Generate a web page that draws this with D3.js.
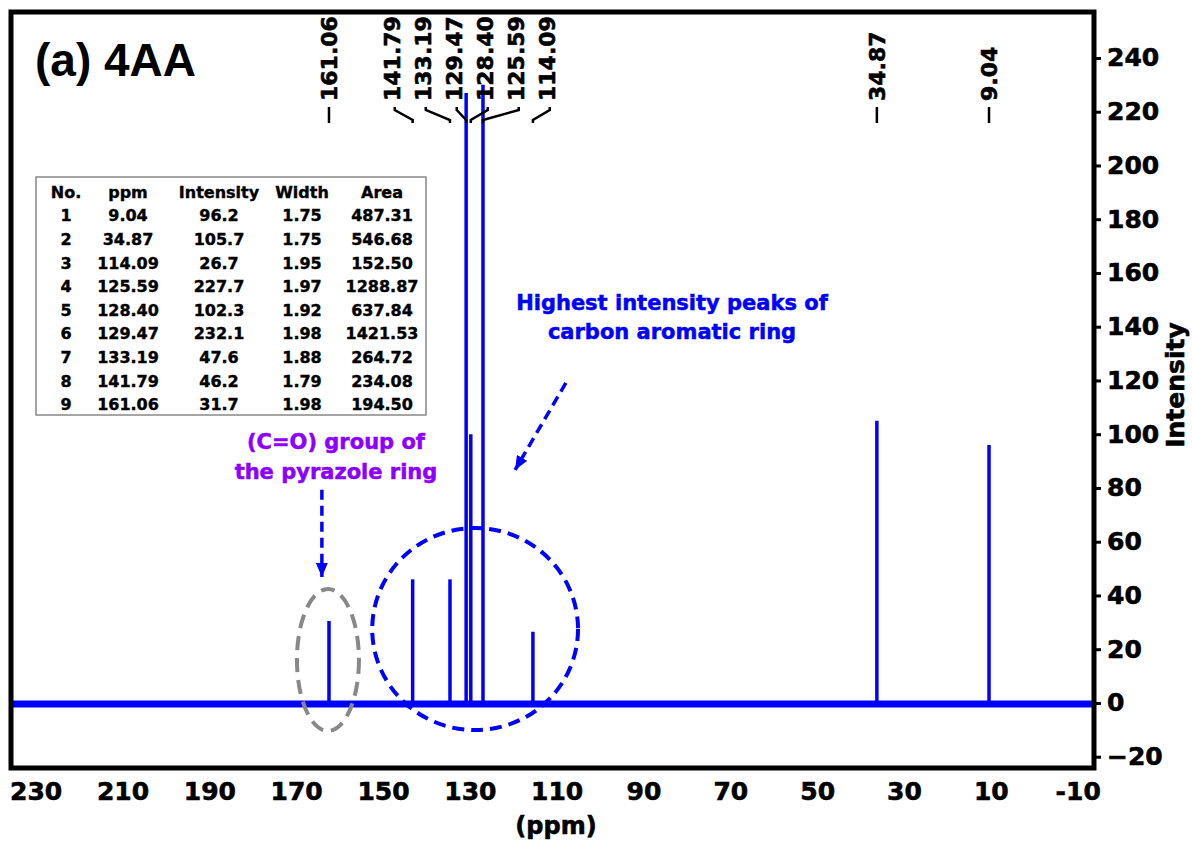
<!DOCTYPE html>
<html>
<head>
<meta charset="utf-8">
<script src="https://cdn.jsdelivr.net/npm/d3@7/dist/d3.min.js"></script>
<style>
  body { margin: 0; background: #fff; }
  text { font-family: "DejaVu Sans", Verdana, sans-serif; font-weight: bold; }
  .heavy { stroke: currentColor; stroke-width: 0.6px; }
</style>
</head>
<body>
<svg id="chart" width="1192" height="841"></svg>
<script>
// peak positions (ppm) and the stick heights as drawn in the spectrum
const peakPpm = [9.04, 34.87, 114.09, 125.59, 128.40, 129.47, 133.19, 141.79, 161.06];
const peakHeight = [96, 105, 26.5, 230, 100, 227, 46, 46, 30.5];

// peak table
const tableHeader = ['No.', 'ppm', 'Intensity', 'Width', 'Area'];
const tableNo = [1, 2, 3, 4, 5, 6, 7, 8, 9];
const tablePpm = ['9.04', '34.87', '114.09', '125.59', '128.40', '129.47', '133.19', '141.79', '161.06'];
const tableIntensity = ['96.2', '105.7', '26.7', '227.7', '102.3', '232.1', '47.6', '46.2', '31.7'];
const tableWidth = ['1.75', '1.75', '1.95', '1.97', '1.92', '1.98', '1.88', '1.79', '1.98'];
const tableArea = ['487.31', '546.68', '152.50', '1288.87', '637.84', '1421.53', '264.72', '234.08', '194.50'];

// axis ticks
const xTicks = [230, 210, 190, 170, 150, 130, 110, 90, 70, 50, 30, 10, -10];
const yTicks = [-20, 0, 20, 40, 60, 80, 100, 120, 140, 160, 180, 200, 220, 240];

const svg = d3.select('#chart');
const blue = '#0000ff';

// plot frame in pixels
const frameL = 11, frameR = 1094, frameT = 12, frameB = 768;

const x = d3.scaleLinear().domain([234.3, -15.14]).range([frameL, frameR]);
const y = d3.scaleLinear().domain([-24.2, 257.1]).range([frameB, frameT]);

// baseline (noise band)
svg.append('line')
    .attr('x1', x(234.3))
    .attr('x2', x(-15.14))
    .attr('y1', y(0) + 1)
    .attr('y2', y(0) + 1)
    .attr('stroke', blue)
    .attr('stroke-width', 7);

// peak sticks
const peaks = peakPpm.map((p, i) => ({ ppm: p, h: peakHeight[i] }));
svg.append('g').selectAll('line')
    .data(peaks)
    .enter()
    .append('line')
    .attr('x1', d => x(d.ppm))
    .attr('x2', d => x(d.ppm))
    .attr('y1', y(0))
    .attr('y2', d => y(d.h))
    .attr('stroke', blue)
    .attr('stroke-width', 3.5);

// frame
svg.append('rect')
    .attr('x', frameL)
    .attr('y', frameT)
    .attr('width', frameR - frameL)
    .attr('height', frameB - frameT)
    .attr('fill', 'none')
    .attr('stroke', 'black')
    .attr('stroke-width', 5);

// x axis
const xAxis = svg.append('g')
    .attr('transform', `translate(0,${frameB})`)
    .call(d3.axisBottom(x).tickValues(xTicks).tickSize(0).tickPadding(14).tickFormat(d => d));
xAxis.select('.domain').remove();
xAxis.selectAll('text')
    .attr('dx', 6)
    .attr('fill', 'black')
    .attr('class', 'heavy')
    .style('font-size', '25px');

svg.append('text')
    .attr('x', 556)
    .attr('y', 834)
    .attr('text-anchor', 'middle')
    .attr('class', 'heavy')
    .style('font-size', '24px')
    .text('(ppm)');

// y axis on the right
const yAxis = svg.append('g')
    .attr('transform', `translate(${frameR},0)`)
    .call(d3.axisRight(y).tickValues(yTicks).tickSize(7).tickPadding(6));
yAxis.select('.domain').remove();
yAxis.selectAll('line').attr('stroke', 'black').attr('stroke-width', 3);
yAxis.selectAll('text')
    .attr('fill', 'black')
    .attr('class', 'heavy')
    .style('font-size', '25px');

svg.append('text')
    .attr('transform', 'translate(1175,385) rotate(-90)')
    .attr('text-anchor', 'middle')
    .attr('dy', '0.36em')
    .attr('class', 'heavy')
    .style('font-size', '25px')
    .text('Intensity');

// title
svg.append('text')
    .attr('x', 35)
    .attr('y', 76)
    .style('font-family', '"Liberation Sans", Arial, sans-serif')
    .style('font-size', '46px')
    .text('(a) 4AA');

// peak labels: merge overlapping labels into groups spread evenly around the group centre
const labelGap = 31;
const sorted = peaks.map(d => ({ ppm: d.ppm, px: x(d.ppm) })).sort((a, b) => a.px - b.px);
let groups = sorted.map(d => ({ items: [d], centre: d.px }));
const extent = g => [g.centre - (g.items.length - 1) / 2 * labelGap, g.centre + (g.items.length - 1) / 2 * labelGap];
let merged = true;
while (merged) {
    merged = false;
    for (let i = 0; i < groups.length - 1; i++) {
        if (extent(groups[i])[1] + labelGap > extent(groups[i + 1])[0]) {
            const items = groups[i].items.concat(groups[i + 1].items);
            groups.splice(i, 2, { items: items, centre: d3.mean(items, d => d.px) });
            merged = true;
            break;
        }
    }
}
groups.forEach(g => {
    const start = extent(g)[0];
    g.items.forEach((d, i) => {
        d.lx = start + i * labelGap;
        d.cx = g.items.length > 1 ? d.lx + 3 : d.px;
    });
});

const labelG = svg.append('g');
labelG.selectAll('text')
    .data(sorted)
    .enter()
    .append('text')
    .attr('transform', d => `translate(${d.lx},101) rotate(-90)`)
    .attr('dy', '0.36em')
    .attr('class', 'heavy')
    .style('font-size', '22px')
    .text(d => d.ppm.toFixed(2));

labelG.selectAll('path')
    .data(sorted)
    .enter()
    .append('path')
    .attr('d', d => `M${d.cx},107 L${d.cx},110 L${d.px},120 L${d.px},123`)
    .attr('fill', 'none')
    .attr('stroke', 'black')
    .attr('stroke-width', 2.5);

// table of peaks
const tableBox = { x: 36, y: 177, w: 390, h: 238 };
const colX = [66, 128, 219, 302, 382];
svg.append('rect')
    .attr('x', tableBox.x)
    .attr('y', tableBox.y)
    .attr('width', tableBox.w)
    .attr('height', tableBox.h)
    .attr('fill', 'white')
    .attr('stroke', '#888')
    .attr('stroke-width', 1.5);

const rows = [tableHeader].concat(tableNo.map((n, i) =>
    [n, tablePpm[i], tableIntensity[i], tableWidth[i], tableArea[i]]));
const tableG = svg.append('g');
rows.forEach((r, ri) => {
    tableG.selectAll(null)
        .data(r)
        .enter()
        .append('text')
        .attr('x', (d, ci) => colX[ci])
        .attr('y', 192 + ri * 23.6)
        .attr('dy', '0.36em')
        .attr('text-anchor', 'middle')
        .attr('class', 'heavy')
        .style('font-size', '16px')
        .style('stroke-width', '0.4px')
        .text(d => d);
});

// annotations
const defs = svg.append('defs');
defs.append('marker')
    .attr('id', 'head')
    .attr('markerUnits', 'userSpaceOnUse')
    .attr('viewBox', '0 0 14 12')
    .attr('refX', 14)
    .attr('refY', 6)
    .attr('markerWidth', 14)
    .attr('markerHeight', 12)
    .attr('orient', 'auto')
    .append('path')
    .attr('d', 'M0,0 L14,6 L0,12 Z')
    .attr('fill', blue);

// circles around peak groups (centre ppm, centre intensity, radius ppm, radius intensity)
const ellipseCx = [127.4, 161.3];
const ellipseCy = [27.5, 16.0];
const ellipseRx = [23.7, 7.14];
const ellipseRy = [37.6, 26.4];
const ellipseColor = [blue, '#888888'];
const ellipseDash = ['12,7', '14,8'];
ellipseCx.forEach((c, i) => {
    svg.append('ellipse')
        .attr('cx', x(c))
        .attr('cy', y(ellipseCy[i]))
        .attr('rx', Math.abs(x(c + ellipseRx[i]) - x(c)))
        .attr('ry', Math.abs(y(ellipseCy[i] + ellipseRy[i]) - y(ellipseCy[i])))
        .attr('fill', 'none')
        .attr('stroke', ellipseColor[i])
        .attr('stroke-width', 4)
        .attr('stroke-dasharray', ellipseDash[i]);
});

// arrows (from ppm/intensity to ppm/intensity)
const arrowFrom = [[106.5, 119.1], [162.7, 79.3]];
const arrowTo = [[118.2, 86.7], [162.7, 46.9]];
arrowFrom.forEach((f, i) => {
    svg.append('line')
        .attr('x1', x(f[0]))
        .attr('y1', y(f[1]))
        .attr('x2', x(arrowTo[i][0]))
        .attr('y2', y(arrowTo[i][1]))
        .attr('stroke', blue)
        .attr('stroke-width', 3.5)
        .attr('stroke-dasharray', '10,6')
        .attr('marker-end', 'url(#head)');
});

svg.append('text')
    .attr('x', 672)
    .attr('y', 310)
    .attr('text-anchor', 'middle')
    .attr('fill', blue)
    .style('stroke', blue)
    .style('stroke-width', '0.5px')
    .style('font-size', '21px')
    .text('Highest intensity peaks of')
    .append('tspan')
    .attr('x', 672)
    .attr('dy', 29)
    .text('carbon aromatic ring');

svg.append('text')
    .attr('x', 336)
    .attr('y', 449)
    .attr('text-anchor', 'middle')
    .attr('fill', '#8c00ff')
    .style('stroke', '#8c00ff')
    .style('stroke-width', '0.5px')
    .style('font-size', '21px')
    .text('(C=O) group of')
    .append('tspan')
    .attr('x', 336)
    .attr('dy', 30)
    .text('the pyrazole ring');
</script>
</body>
</html>
